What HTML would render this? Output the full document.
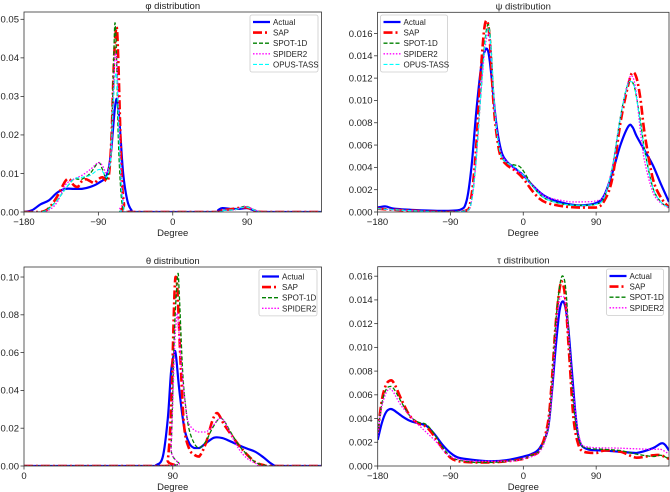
<!DOCTYPE html>
<html><head><meta charset="utf-8"><style>
body{margin:0;background:#fff;}
svg{display:block;font-family:"Liberation Sans","DejaVu Sans",sans-serif;}
</style></head><body>
<svg id="chart" width="670" height="492" viewBox="0 0 670 492" xmlns="http://www.w3.org/2000/svg"></svg>
<script>
// ---- phi data ----
const phiActualX=[-180,-170,-160,-150,-140,-130,-120,-110,-100,-90,-80,-75,-70,-67,-64,-60,-55,-50,-45,50,55,60,70,80,90,100,110,180];
const phiActualY=[0,0.0005,0.002,0.003,0.005,0.006,0.006,0.006,0.0065,0.0075,0.0095,0.015,0.027,0.029,0.022,0.01,0.003,0.0005,0,0,0.0005,0.001,0.0008,0.0008,0.001,0.0003,0,0];
const phiSapX=[-180,-160,-150,-140,-130,-125,-120,-115,-110,-105,-100,-95,-90,-85,-80,-77,-74,-71,-68,-66,-64,-62,-59,-55,50,60,70,88,100,110,180];
const phiSapY=[0,0,0.001,0.004,0.008,0.0085,0.007,0.0065,0.008,0.0085,0.008,0.0075,0.0085,0.009,0.008,0.01,0.02,0.04,0.048,0.04,0.025,0.01,0.002,0,0,0.0005,0.0007,0.0012,0.0003,0,0];
const phiSpotX=[-180,-160,-150,-140,-130,-120,-115,-110,-100,-90,-85,-80,-75,-72,-70,-68,-66,-63,-60,-55,50,60,75,88,100,110,180];
const phiSpotY=[0,0,0.001,0.003,0.006,0.0085,0.0085,0.0085,0.01,0.0128,0.011,0.0085,0.015,0.035,0.049,0.04,0.02,0.006,0.001,0,0,0.0004,0.0006,0.0015,0.0004,0,0];
const phiSpiderX=[-180,-160,-150,-140,-130,-120,-110,-100,-90,-85,-80,-75,-72,-70,-68,-66,-63,-60,-55,50,60,75,88,100,110,180];
const phiSpiderY=[0,0,0.0005,0.0025,0.007,0.0085,0.0095,0.011,0.0128,0.012,0.01,0.015,0.03,0.04,0.04,0.03,0.012,0.003,0,0,0.0004,0.0006,0.0014,0.0005,0,0];
const phiOpusX=[-180,-160,-150,-140,-130,-120,-110,-100,-90,-85,-80,-75,-72,-69,-67,-65,-62,-59,-55,50,60,75,88,100,110,180];
const phiOpusY=[0,0,0.0008,0.003,0.006,0.0085,0.009,0.0095,0.011,0.0105,0.009,0.014,0.028,0.036,0.032,0.02,0.006,0.001,0,0,0.0004,0.0006,0.0013,0.0004,0,0];
// ---- psi data ----
const psiActualX=[-180,-170,-160,-140,-100,-78,-70,-64,-58,-52,-47,-43,-39,-35,-31,-26,-20,-10,0,10,20,30,50,70,90,100,110,120,130,135,140,150,160,170,180];
const psiActualY=[0.0004,0.0005,0.0003,0.0002,0.0001,0.0002,0.001,0.004,0.009,0.013,0.0145,0.0143,0.012,0.009,0.0068,0.0052,0.0045,0.0039,0.0033,0.0025,0.0018,0.0013,0.0008,0.0006,0.0008,0.0015,0.0035,0.006,0.0077,0.0076,0.0068,0.0055,0.0042,0.0025,0.0009];
const psiSapX=[-180,-160,-100,-72,-65,-59,-53,-48,-44,-41,-37,-33,-28,-20,-10,0,10,20,30,50,70,90,100,110,120,130,135,140,145,150,160,170,180];
const psiSapY=[0.0003,0.0002,0,0.0001,0.001,0.005,0.012,0.0165,0.017,0.015,0.01,0.007,0.005,0.0042,0.0037,0.003,0.002,0.0012,0.0008,0.0005,0.0004,0.0004,0.001,0.003,0.008,0.0115,0.0125,0.012,0.01,0.007,0.003,0.0013,0.0004];
const psiSpotX=[-180,-160,-100,-72,-65,-59,-52,-47,-43,-40,-36,-32,-27,-20,-10,-5,0,10,20,30,50,70,90,100,110,120,128,133,138,145,150,160,170,180];
const psiSpotY=[0.0003,0.0002,0,0.0001,0.0006,0.004,0.011,0.0155,0.0168,0.015,0.01,0.0068,0.005,0.0044,0.0042,0.0041,0.0037,0.0025,0.0016,0.0011,0.0007,0.0006,0.0007,0.0013,0.004,0.0085,0.0112,0.0117,0.011,0.008,0.0055,0.0022,0.0009,0.0004];
const psiSpiderX=[-180,-160,-100,-72,-65,-59,-52,-47,-43,-40,-36,-32,-27,-20,-10,0,10,20,30,50,60,70,90,100,110,120,129,134,139,145,150,160,170,180];
const psiSpiderY=[0.0003,0.0002,0,0.0001,0.0006,0.004,0.011,0.0148,0.016,0.0145,0.01,0.007,0.0052,0.0045,0.0038,0.0033,0.0025,0.0018,0.0013,0.001,0.0009,0.0009,0.001,0.0015,0.004,0.0085,0.0115,0.0122,0.011,0.007,0.0045,0.0018,0.0008,0.0004];
const psiOpusX=[-180,-160,-100,-72,-65,-59,-52,-47,-43,-40,-36,-32,-27,-20,-10,0,10,20,30,50,70,90,100,110,120,128,133,138,145,150,160,170,180];
const psiOpusY=[0.0003,0.0002,0,0.0001,0.0006,0.004,0.011,0.0152,0.0165,0.0148,0.01,0.0068,0.005,0.0044,0.004,0.0033,0.0024,0.0016,0.0011,0.0007,0.0006,0.0007,0.0013,0.004,0.0085,0.0112,0.0117,0.011,0.0078,0.0054,0.0022,0.0009,0.0004];
// ---- theta data ----
const thActualX=[0,75,80,84,87,89,91,92,94,97,100,103,106,110,115,120,125,130,135,140,145,150,155,180];
const thActualY=[0,0,0.0005,0.005,0.025,0.05,0.06,0.058,0.04,0.02,0.012,0.0095,0.0095,0.012,0.015,0.0148,0.013,0.011,0.0092,0.0075,0.0045,0.001,0,0];
const thSapX=[0,85,87,89,91,92,93,95,97,100,103,106,110,114,117,121,125,130,135,140,145,150,180];
const thSapY=[0,0,0.003,0.03,0.09,0.1,0.09,0.05,0.02,0.009,0.006,0.005,0.012,0.024,0.028,0.022,0.017,0.011,0.006,0.002,0.0005,0,0];
const thSpotX=[0,87,89,91,93,94,96,98,100,103,106,110,114,118,121,125,130,135,140,145,150,180];
const thSpotY=[0,0,0.01,0.07,0.101,0.09,0.05,0.03,0.019,0.012,0.0095,0.013,0.02,0.025,0.024,0.018,0.011,0.006,0.002,0.0005,0,0];
const thSpiderX=[0,87,89,91,92,93,95,98,100,105,110,114,118,121,125,130,135,140,145,180];
const thSpiderY=[0,0,0.01,0.06,0.075,0.08,0.055,0.03,0.022,0.018,0.018,0.021,0.025,0.024,0.017,0.009,0.004,0.0015,0,0];
// ---- tau data ----
const tauActualX=[-180,-175,-170,-165,-160,-150,-140,-130,-120,-110,-100,-90,-80,-60,-40,-20,0,10,20,30,35,40,45,50,55,60,65,70,80,100,120,140,160,170,175,180];
const tauActualY=[0.0022,0.0036,0.0045,0.0048,0.0047,0.0042,0.0038,0.0036,0.0034,0.0027,0.0018,0.0011,0.0007,0.0005,0.0004,0.0005,0.0008,0.001,0.0015,0.003,0.006,0.01,0.0132,0.0138,0.012,0.008,0.004,0.002,0.0014,0.0013,0.0012,0.0011,0.0015,0.0019,0.0018,0.0013];
const tauSapX=[-180,-175,-170,-165,-160,-150,-140,-130,-120,-110,-100,-90,-80,-60,-40,-20,0,10,20,30,35,40,45,48,52,57,62,68,75,90,100,120,140,160,170,180];
const tauSapY=[0.0028,0.0055,0.0068,0.0072,0.007,0.0055,0.0042,0.0036,0.0033,0.0025,0.0015,0.0007,0.0004,0.0003,0.0003,0.0004,0.0006,0.0009,0.0013,0.0035,0.007,0.012,0.015,0.0155,0.014,0.009,0.004,0.0018,0.0012,0.0011,0.0013,0.0012,0.0007,0.0009,0.0009,0.0006];
const tauSpotX=[-180,-175,-170,-165,-160,-150,-140,-130,-120,-110,-100,-90,-80,-60,-40,-20,0,10,20,30,35,40,45,49,53,58,63,70,80,100,120,140,160,170,180];
const tauSpotY=[0.0027,0.0052,0.0064,0.0067,0.0065,0.0053,0.0042,0.0037,0.0035,0.0027,0.0016,0.0008,0.0005,0.0003,0.0003,0.0004,0.0006,0.0009,0.0013,0.003,0.0065,0.012,0.0152,0.016,0.0145,0.009,0.0045,0.002,0.0015,0.0014,0.0013,0.001,0.0008,0.0009,0.0006];
const tauSpiderX=[-180,-175,-165,-150,-130,-110,-90,-60,-20,0,20,30,35,40,44,48,52,56,62,70,80,120,160,170,180];
const tauSpiderY=[0.0025,0.005,0.0065,0.005,0.0035,0.0022,0.0008,0.0004,0.0004,0.0006,0.0012,0.003,0.006,0.011,0.0138,0.0143,0.0138,0.011,0.006,0.0022,0.0016,0.0015,0.0014,0.0014,0.001];
// ---- ticks ----
const phiYTicks=[0,0.01,0.02,0.03,0.04,0.05];
const phiYLabels=["0.00","0.01","0.02","0.03","0.04","0.05"];
const psiYTicks=[0,0.002,0.004,0.006,0.008,0.010,0.012,0.014,0.016];
const psiYLabels=["0.000","0.002","0.004","0.006","0.008","0.010","0.012","0.014","0.016"];
const thYTicks=[0,0.02,0.04,0.06,0.08,0.10];
const thYLabels=["0.00","0.02","0.04","0.06","0.08","0.10"];
const tauYTicks=psiYTicks;
const tauYLabels=psiYLabels;
const dihXTicks=[-180,-90,0,90];
const dihXLabels=["\u2212180","\u221290","0","90"];
const thXTicks=[0,90];
const thXLabels=["0","90"];

const NS="http://www.w3.org/2000/svg";
const svg=document.getElementById('chart');
function mk(tag,attrs,parent){const e=document.createElementNS(NS,tag);for(const k in attrs)e.setAttribute(k,attrs[k]);(parent||svg).appendChild(e);return e;}
const STY={
 actual:{stroke:'#0000ff',w:2.2,dash:''},
 sap:{stroke:'#ff0000',w:2.6,dash:'9,3,2,3'},
 spot:{stroke:'#008000',w:1.3,dash:'4,2'},
 spider:{stroke:'#ff00ff',w:1.3,dash:'1.5,1.6'},
 opus:{stroke:'#00ffff',w:1.1,dash:'4,2'}
};
const NAMES={actual:'Actual',sap:'SAP',spot:'SPOT-1D',spider:'SPIDER2',opus:'OPUS-TASS'};
function smoothPath(pts){
 let d='M'+pts[0][0].toFixed(2)+','+pts[0][1].toFixed(2);
 for(let i=0;i<pts.length-1;i++){
  const p0=pts[Math.max(0,i-1)],p1=pts[i],p2=pts[i+1],p3=pts[Math.min(pts.length-1,i+2)];
  let c1y=p1[1]+(p2[1]-p0[1])/6, c2y=p2[1]-(p3[1]-p1[1])/6;
  const bot=Math.max(p1[1],p2[1]);
  c1y=Math.min(c1y,bot); c2y=Math.min(c2y,bot);
  const c1x=p1[0]+(p2[0]-p0[0])/6, c2x=p2[0]-(p3[0]-p1[0])/6;
  d+=' C'+c1x.toFixed(2)+','+c1y.toFixed(2)+' '+c2x.toFixed(2)+','+c2y.toFixed(2)+' '+p2[0].toFixed(2)+','+p2[1].toFixed(2);
 }
 return d;
}
function panel(cfg){
 const g=mk('g',{});
 
 
 const X=v=>cfg.l+(v-cfg.xmin)/(cfg.xmax-cfg.xmin)*(cfg.r-cfg.l);
 const Y=v=>cfg.b-v/cfg.ymax*(cfg.b-cfg.t);
 const clipId='clip-'+cfg.name;
 const cp=mk('clipPath',{id:clipId},g);
 mk('rect',{x:cfg.l,y:cfg.t,width:cfg.r-cfg.l,height:cfg.b-cfg.t},cp);
 const sg=mk('g',{'clip-path':'url(#'+clipId+')'},g);
 
 
 cfg.series.forEach(s=>{
  const st=STY[s.key];
  const pts=s.x.map((v,i)=>[X(v),Y(s.y[i])]);
  const p=mk('path',{d:smoothPath(pts),fill:'none',stroke:st.stroke,'stroke-width':st.w,'stroke-dasharray':st.dash,'stroke-linejoin':'round'},sg);
  
  
 });
 const fr=mk('rect',{x:cfg.l,y:cfg.t,width:cfg.r-cfg.l,height:cfg.b-cfg.t,fill:'none',stroke:'#333','stroke-width':0.8},g);
 
 
 cfg.yt.forEach((v,i)=>{
  const y=Y(v);
  mk('line',{x1:cfg.l-3.5,x2:cfg.l,y1:y,y2:y,stroke:'#333','stroke-width':0.8},g);
  const t=mk('text',{x:cfg.l-5,y:y+3.3,'font-size':9.5,'text-anchor':'end',fill:'#222'},g);
  t.textContent=cfg.yl[i];
  
  
 });
 cfg.xt.forEach((v,i)=>{
  const x=X(v);
  mk('line',{x1:x,x2:x,y1:cfg.b,y2:cfg.b+3.5,stroke:'#333','stroke-width':0.8},g);
  const t=mk('text',{x:x,y:cfg.b+13,'font-size':9.5,'text-anchor':'middle',fill:'#222'},g);
  t.textContent=cfg.xl[i];
  
  
 });
 const xt=mk('text',{x:(cfg.l+cfg.r)/2,y:cfg.b+24,'font-size':9.5,'text-anchor':'middle',fill:'#222'},g);
 xt.textContent='Degree';
 
 
 const tt=mk('text',{x:(cfg.l+cfg.r)/2,y:cfg.t-3,'font-size':9.5,'text-anchor':'middle',fill:'#222'},g);
 tt.textContent=cfg.title;
 
 
 const L=cfg.leg, n=cfg.series.length;
 const lg=mk('g',{},g);
 
 
 mk('rect',{x:L.x,y:L.y,width:L.w,height:n*10.6+4,fill:'#fff','fill-opacity':0.85,stroke:'#ccc','stroke-width':0.8,rx:2},lg);
 cfg.series.forEach((s,i)=>{
  const st=STY[s.key], yy=L.y+7+i*10.6;
  mk('line',{x1:L.x+3,x2:L.x+20,y1:yy,y2:yy,stroke:st.stroke,'stroke-width':st.w,'stroke-dasharray':st.dash},lg);
  const t=mk('text',{x:L.x+23,y:yy+3,'font-size':8,fill:'#222'},lg);
  t.textContent=NAMES[s.key];
  
  
 });
}
panel({name:'phi-panel',title:'\u03c6 distribution',l:24,r:321.5,t:12,b:212,xmin:-180,xmax:180,ymax:0.0519,xt:dihXTicks,xl:dihXLabels,yt:phiYTicks,yl:phiYLabels,leg:{x:250,y:15,w:68},
 series:[{key:'actual',x:phiActualX,y:phiActualY},{key:'sap',x:phiSapX,y:phiSapY},{key:'spot',x:phiSpotX,y:phiSpotY},{key:'spider',x:phiSpiderX,y:phiSpiderY},{key:'opus',x:phiOpusX,y:phiOpusY}]});
panel({name:'psi-panel',title:'\u03c8 distribution',l:377.5,r:669,t:12.3,b:212,xmin:-180,xmax:180,ymax:0.0179,xt:dihXTicks,xl:dihXLabels,yt:psiYTicks,yl:psiYLabels,leg:{x:380.5,y:15,w:67},
 series:[{key:'actual',x:psiActualX,y:psiActualY},{key:'sap',x:psiSapX,y:psiSapY},{key:'spot',x:psiSpotX,y:psiSpotY},{key:'spider',x:psiSpiderX,y:psiSpiderY},{key:'opus',x:psiOpusX,y:psiOpusY}]});
panel({name:'theta-panel',title:'\u03b8 distribution',l:24,r:321.5,t:267,b:466,xmin:0,xmax:180,ymax:0.1053,xt:thXTicks,xl:thXLabels,yt:thYTicks,yl:thYLabels,leg:{x:259,y:269.5,w:58},
 series:[{key:'actual',x:thActualX,y:thActualY},{key:'sap',x:thSapX,y:thSapY},{key:'spot',x:thSpotX,y:thSpotY},{key:'spider',x:thSpiderX,y:thSpiderY}]});
panel({name:'tau-panel',title:'\u03c4 distribution',l:377.7,r:669,t:266.7,b:466,xmin:-180,xmax:180,ymax:0.0168,xt:dihXTicks,xl:dihXLabels,yt:tauYTicks,yl:tauYLabels,leg:{x:606.5,y:269,w:57},
 series:[{key:'actual',x:tauActualX,y:tauActualY},{key:'sap',x:tauSapX,y:tauSapY},{key:'spot',x:tauSpotX,y:tauSpotY},{key:'spider',x:tauSpiderX,y:tauSpiderY}]});
</script>
</body></html>
